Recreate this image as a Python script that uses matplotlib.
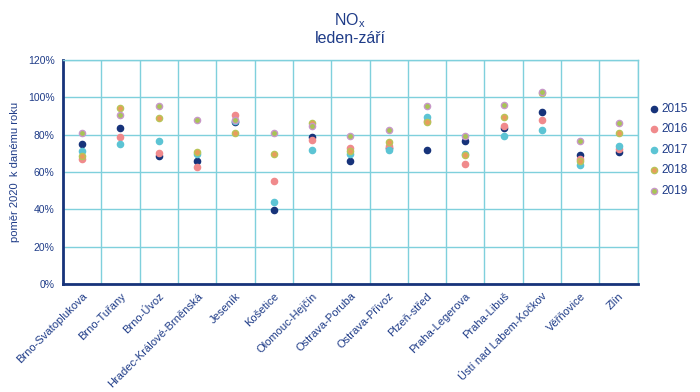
import numpy as np
import matplotlib.pyplot as plt

plt.rcParams['font.family'] = ['Liberation Sans', 'DejaVu Sans']
plt.rcParams['mathtext.fontset'] = 'custom'
plt.rcParams['mathtext.rm'] = 'Liberation Sans'

stations = ["Brno-Svatoplukova", "Brno-Tuřany", "Brno-Úvoz", "Hradec-Králové-Brněnská",
            "Jeseník", "Košetice", "Olomouc-Hejčín", "Ostrava-Poruba", "Ostrava-Přívoz",
            "Plzeň-střed", "Praha-Legerova", "Praha-Libuš", "Ústí nad Labem-Kočkov",
            "Věřňovice", "Zlín"]
years = ["2015", "2016", "2017", "2018", "2019"]

v2015 = [75.0, 83.4, 68.8, 66.1, 86.7, 39.8, 78.8, 66.1, 73.0, 71.8, 76.4, 83.4, 92.0, 69.3, 70.9]
v2016 = [67.1, 78.8, 70.4, 62.9, 90.8, 55.4, 77.3, 73.0, 73.8, 87.3, 64.6, 84.8, 87.7, 66.8, 72.5]
v2017 = [71.3, 75.0, 76.8, 69.6, 87.3, 44.1, 72.1, 69.5, 71.6, 89.6, 69.5, 79.3, 82.5, 63.8, 73.9]
v2018 = [68.8, 94.1, 88.9, 70.7, 81.1, 69.8, 86.2, 71.3, 75.9, 87.0, 69.1, 89.5, 102.4, 66.0, 81.1]
v2019 = [81.1, 90.4, 95.5, 87.7, 88.1, 80.7, 84.5, 79.1, 82.7, 95.2, 79.3, 96.1, 102.8, 76.4, 86.2]

values = [v2015, v2016, v2017, v2018, v2019]
face = ["#17337a", "#f08a8c", "#5cc4d4", "#e89c5c", "#a8c454"]
edge = ["#17337a", "#f08a8c", "#5cc4d4", "#b8c458", "#c898c8"]
navy = "#1f3c88"
grid = "#7fd0dc"

fig = plt.figure(figsize=(7, 3.92), dpi=100)
ax = fig.add_axes([0.09, 0.2755, 0.821, 0.571])

x = np.arange(len(stations))
for i in range(len(years)):
    ax.scatter(x, values[i], s=20, c=face[i], edgecolors=edge[i], linewidths=1.0,
               label=years[i], zorder=3 + i)

ax.set_xlim(-0.5, len(stations) - 0.5)
ax.set_ylim(0, 120)
ax.set_yticks(np.arange(0, 121, 20))
ax.set_yticklabels([f"{t}%" for t in range(0, 121, 20)], fontsize=7.5, color=navy)
ax.set_xticks(x)
ax.set_xticklabels(stations, rotation=45, ha="right", rotation_mode="anchor",
                   fontsize=8, color=navy)
ax.set_xticks(np.arange(-0.5, len(stations), 1), minor=True)
ax.tick_params(axis="x", which="major", length=0, pad=5)
ax.tick_params(axis="x", which="minor", length=0)
ax.tick_params(axis="y", length=0, pad=6)
ax.grid(True, which="minor", axis="x", color=grid, linewidth=1)
ax.grid(True, which="major", axis="y", color=grid, linewidth=1)
ax.set_axisbelow(True)

for s in ["top", "right"]:
    ax.spines[s].set_color(grid)
    ax.spines[s].set_linewidth(1)
for s in ["left", "bottom"]:
    ax.spines[s].set_color("#17337a")
    ax.spines[s].set_linewidth(2)

ax.set_ylabel("poměr 2020  k danému roku", fontsize=8, color=navy, labelpad=6)

fig.text(0.5, 0.935, r"NO$_{\mathregular{x}}$", ha="center", fontsize=11.5, color=navy)
fig.text(0.5, 0.89, "leden-září", ha="center", fontsize=11.5, color=navy)

leg = ax.legend(loc="center left", bbox_to_anchor=(0.99, 0.6), frameon=False,
                fontsize=8.5, handletextpad=-0.4, labelspacing=0.72, markerscale=1.0)
for t in leg.get_texts():
    t.set_color(navy)

fig.savefig("out.png", dpi=100)
